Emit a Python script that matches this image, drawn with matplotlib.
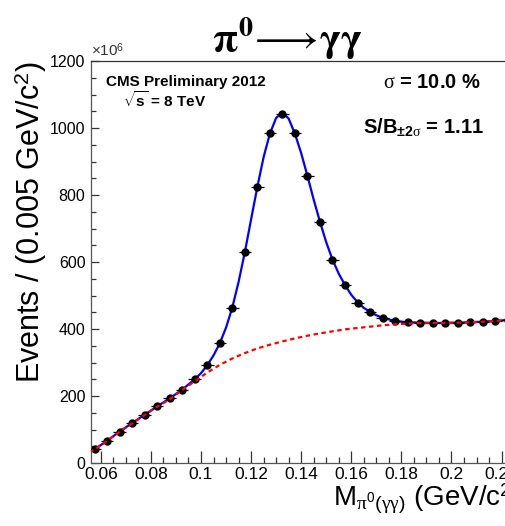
import matplotlib
matplotlib.use("Agg")
import matplotlib.pyplot as plt
from matplotlib.ticker import MultipleLocator

plt.rcParams['font.family'] = ['Liberation Sans', 'DejaVu Sans']
plt.rcParams['mathtext.fontset'] = 'custom'
plt.rcParams['mathtext.rm'] = 'Liberation Sans'
plt.rcParams['mathtext.bf'] = 'Liberation Sans:bold'
plt.rcParams['mathtext.it'] = 'Liberation Serif'

# donnees (unite : 10^6 evenements / 0.005 GeV)
masse = [0.0575, 0.0625, 0.0675, 0.0725, 0.0775, 0.0825, 0.0875, 0.0925,
         0.0975, 0.1025, 0.1075, 0.1125, 0.1175, 0.1225, 0.1275, 0.1325,
         0.1375, 0.1425, 0.1475, 0.1525, 0.1575, 0.1625, 0.1675, 0.1725,
         0.1775, 0.1825, 0.1875, 0.1925, 0.1975, 0.2025, 0.2075, 0.2125,
         0.2175, 0.2225]
evenements = [41, 66, 94, 119, 144, 169, 193, 219,
              252, 294, 358, 464, 629, 823, 984, 1041,
              984, 857, 720, 607, 531, 479, 451, 433,
              424, 420, 419, 418, 418, 419, 420, 421.5,
              424, 427]

x_fit = [0.0555, 0.0575, 0.0625, 0.0675, 0.0725, 0.0775, 0.0825, 0.0875,
         0.0925, 0.0975, 0.1000, 0.1025, 0.1050, 0.1075, 0.1100, 0.1125,
         0.1150, 0.1175, 0.1200, 0.1225, 0.1250, 0.1275, 0.1300, 0.1325,
         0.1350, 0.1375, 0.1400, 0.1425, 0.1450, 0.1475, 0.1500, 0.1525,
         0.1550, 0.1575, 0.1600, 0.1625, 0.1650, 0.1675, 0.1700, 0.1725,
         0.1775, 0.1825, 0.1875, 0.1925, 0.1975, 0.2025, 0.2075, 0.2125,
         0.2175, 0.2225, 0.2300]
y_fit = [32, 41, 66, 94, 119, 144, 169, 193,
         219, 250, 268, 292, 321, 357, 404, 464,
         540, 629, 727, 824, 913, 983, 1030, 1046,
         1028, 983, 925, 857, 786, 720, 659, 607,
         565, 531, 502, 480, 463, 451, 441, 433,
         424, 420, 419, 418, 418, 419, 420, 422,
         424, 427, 430]

# fond seul (courbe rouge pointillee)
x_fond = [0.0555, 0.0575, 0.0625, 0.0675, 0.0725, 0.0775, 0.0825, 0.0875,
          0.0925, 0.0975, 0.1025, 0.1075, 0.1125, 0.1175, 0.1225, 0.1275,
          0.1325, 0.1375, 0.1425, 0.1475, 0.1525, 0.1575, 0.1625, 0.1675,
          0.1725, 0.1775, 0.1825, 0.1875, 0.1925, 0.1975, 0.2025, 0.2075,
          0.2125, 0.2175, 0.2225, 0.2300]
y_fond = [32, 40, 66, 93, 118, 143, 168, 190,
          218, 244, 270, 293, 312, 328, 342, 353,
          363, 372, 380, 387, 393, 399, 403, 407,
          411, 414, 416, 418, 418, 418, 419, 420,
          422, 424, 427, 430]

fig = plt.figure(figsize=(5.06, 5.26), dpi=100)
# l'axe depasse a droite comme sur l'original (image rognee)
ax = fig.add_axes([91/506, 1 - 463/526, 485.75/506, 402/526])

ax.plot(x_fit, y_fit, color='#0000ff', lw=1.6, zorder=2)
ax.errorbar(masse, evenements, xerr=0.0025, fmt='o', color='black',
            ms=5, elinewidth=0.9, capsize=0, zorder=3)
ax.plot(x_fond, y_fond, color='#ff0000', lw=1.6, ls=(0, (2, 1.6)), zorder=4)

ax.set_xlim(0.0561, 0.25)
ax.set_ylim(0, 1200)

ax.xaxis.set_minor_locator(MultipleLocator(0.005))
ax.yaxis.set_major_locator(MultipleLocator(200))
ax.yaxis.set_minor_locator(MultipleLocator(50))
ax.set_xticks([0.06, 0.08, 0.1, 0.12, 0.14, 0.16, 0.18, 0.2, 0.22, 0.24])
ax.set_xticklabels(['0.06', '0.08', '0.1', '0.12', '0.14', '0.16', '0.18', '0.2', '0.22', '0.24'])

ax.tick_params(axis='x', which='major', direction='in', length=8.5, width=0.9,
               labelsize=12.5, pad=3, color='#333333')
ax.tick_params(axis='x', which='minor', direction='in', length=4, width=0.9, color='#333333')
ax.tick_params(axis='y', which='major', direction='in', length=6, width=0.9,
               labelsize=11.5, pad=4, color='#333333')
ax.tick_params(axis='y', which='minor', direction='in', length=3.5, width=0.9, color='#333333')
for s in ax.spines.values():
    s.set_color('#555555')
    s.set_linewidth(0.9)
ax.spines['top'].set_color('#333333')

ax.set_ylabel("Events / (0.005 GeV/c$^2$)", fontsize=22, labelpad=1, loc='top')
fig.text(333/506, 1 - 506/526, r"M$_{\pi^0(\gamma\gamma)}$ (GeV/c$^2$)",
         fontsize=20, ha='left', va='baseline')
ax.text(0.0, 1.005, r"$\times$10$^6$", transform=ax.transAxes, fontsize=11,
        ha='left', va='bottom', color='#333333')

# titre
fig.text(287/506, 1 - 38/526,
         r"$\mathbf{\pi}^{\mathbf{0}}\!\longrightarrow\!\mathbf{\gamma\gamma}$",
         fontsize=29, ha='center', va='center', math_fontfamily='stix')

# textes dans le cadre
fig.text(106/506, 1 - 82/526, "CMS Preliminary 2012", fontsize=11, weight='bold',
         ha='left', va='center')
fig.text(123/506, 1 - 100/526, r"$\sqrt{\mathbf{s}}$ = 8 TeV", fontsize=11, weight='bold',
         ha='left', va='center')
fig.text(383/506, 1 - 83/526, r"$\sigma$ = 10.0 %", fontsize=14.5, weight='bold',
         ha='left', va='center')
fig.text(363/506, 1 - 127/526, r"S/B$_{\mathbf{\pm2}\sigma}$ = 1.11", fontsize=14.5, weight='bold',
         ha='left', va='center')

fig.savefig('out.png', dpi=100)
